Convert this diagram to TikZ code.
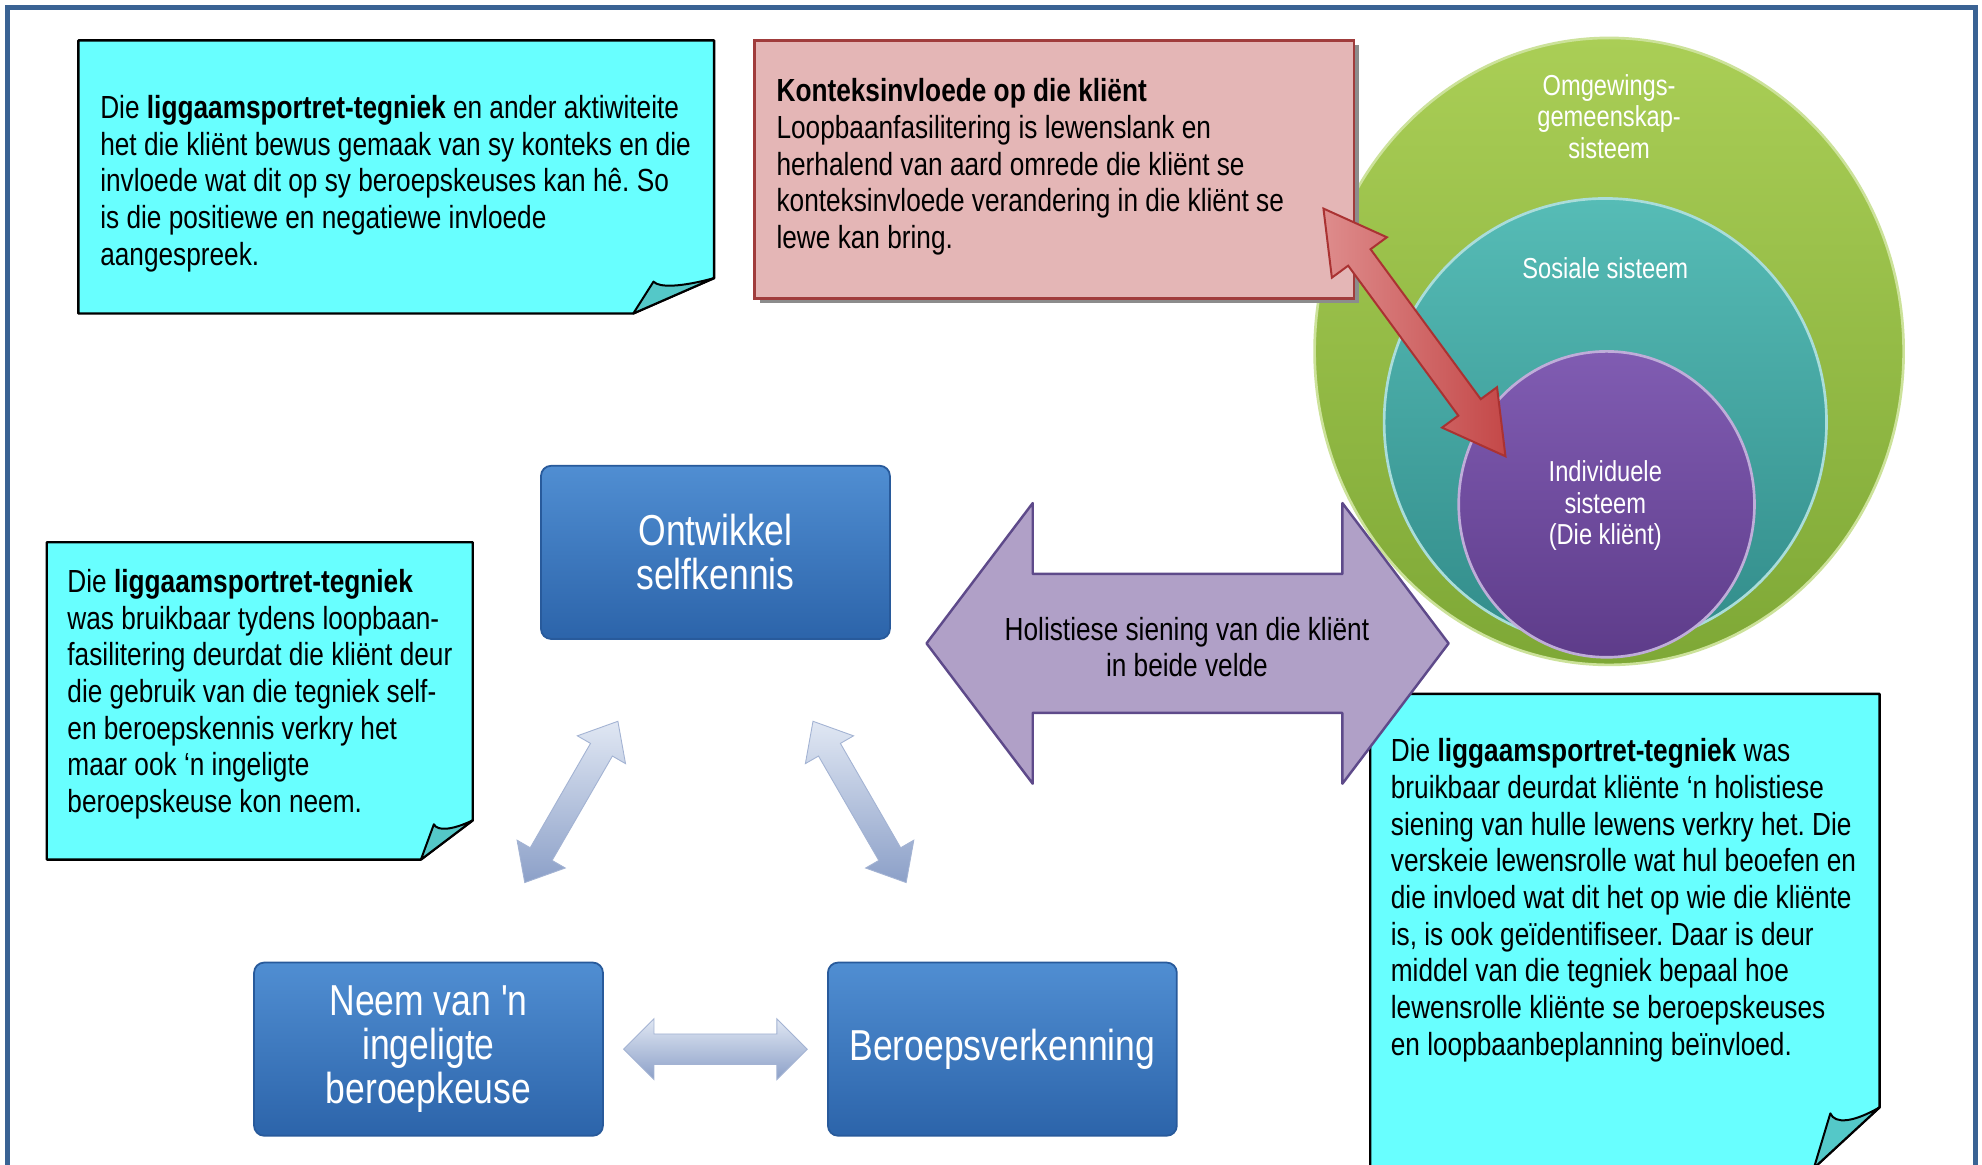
\documentclass[tikz,border=0pt]{standalone}
\usepackage{fontspec}
\setmainfont{Liberation Sans}[FakeStretch=0.82, Ligatures=TeXOff]
\usetikzlibrary{calc}
\frenchspacing
\definecolor{frameblue}{RGB}{58,99,148}
\definecolor{notecyan}{RGB}{104,255,255}
\definecolor{notefold}{RGB}{84,200,200}
\definecolor{ctxpink}{RGB}{228,182,182}
\definecolor{ctxedge}{RGB}{160,60,60}
\definecolor{holpurple}{RGB}{176,160,199}
\definecolor{holedge}{RGB}{94,74,138}
\definecolor{boxtop}{RGB}{80,142,210}
\definecolor{boxbot}{RGB}{44,100,170}
\definecolor{boxedge}{RGB}{40,90,155}
\definecolor{metaltop}{RGB}{224,231,243}
\definecolor{metalbot}{RGB}{140,160,200}
\definecolor{redtop}{RGB}{222,140,140}
\definecolor{redbot}{RGB}{196,72,72}
\definecolor{rededge}{RGB}{170,50,50}
\definecolor{envtop}{RGB}{170,206,86}
\definecolor{envbot}{RGB}{126,168,54}
\definecolor{soctop}{RGB}{86,188,182}
\definecolor{socbot}{RGB}{50,140,138}
\definecolor{indtop}{RGB}{128,92,178}
\definecolor{indbot}{RGB}{94,60,138}
\def\px{0.2mm}
\newcommand\DrawNote[6]{% left, top, right, bottom, fold dx, fold dy
  \path[note] (#1,#2) -- (#3,#2) -- (#3,{#4-#6}) -- ({#3-#5},#4) -- (#1,#4) -- cycle;
  \path[note fold] ({#3-#5},#4) -- ({#3-0.75*#5},{#4-0.9*#6})
    .. controls ({#3-0.68*#5},{#4-0.72*#6}) and ({#3-0.4*#5},{#4-0.75*#6}) .. (#3,{#4-#6}) -- cycle;
}
\newcommand\BlockArrow[6][]{% from, to, shaft half width, head half width, head length
  \path[#1] let \p1=($(#3)-(#2)$), \n1={atan2(\y1,\x1)}, \n2={veclen(\x1,\y1)} in
    [shift={(#2)}, rotate=\n1]
    (0pt,0pt) -- (#6*\px,#5*\px) -- (#6*\px,#4*\px) -- (\n2-#6*\px,#4*\px)
    -- (\n2-#6*\px,#5*\px) -- (\n2+0pt,0pt) -- (\n2-#6*\px,-#5*\px) -- (\n2-#6*\px,-#4*\px)
    -- (#6*\px,-#4*\px) -- (#6*\px,-#5*\px) -- cycle;
}
\tikzset{%
  frame/.style={draw=frameblue, line width=2.4pt},
  note/.style={fill=notecyan, draw=black, line width=1.1pt, line join=round},
  note fold/.style={fill=notefold, draw=black, line width=0.9pt, line join=round},
  body text/.style={font=\fontsize{14.4}{16.5}\selectfont, align=left, inner sep=0pt,
    anchor=north west},
  cyclebox/.style={rounded corners=1.6mm, minimum width=55.2mm, minimum height=27.4mm,
    top color=boxtop, bottom color=boxbot, draw=boxedge, line width=0.8pt,
    text=white, font=\fontsize{19.5}{19.8}\selectfont, align=center},
  metal arrow/.style={top color=metaltop, bottom color=metalbot, draw=metalbot!80!white,
    line width=0.4pt},
  red arrow/.style={left color=redtop, right color=redbot, draw=rededge, line width=0.9pt},
  hol arrow/.style={fill=holpurple, draw=holedge, line width=1.1pt, line join=round},
  ring text/.style={text=white, font=\fontsize{13}{14.2}\selectfont, align=center}
}
\begin{document}
\begin{tikzpicture}[x=\px,y=-\px]
  \useasboundingbox (0,0) rectangle (1568,921);
  \fill[white] (0,0) rectangle (1568,921);

  % left note
  \DrawNote{37}{429}{374}{680}{41}{31}
  % top note
  \DrawNote{62}{32}{565}{248}{64}{28}

  % the three systems
  \shade[top color=envtop, bottom color=envbot, draw=envtop!60!white, line width=1.2pt]
    (1273,278) ellipse [x radius=233, y radius=248];
  \shade[top color=soctop, bottom color=socbot, draw=soctop!50!white, line width=1.2pt]
    (1270,334) ellipse [x radius=175, y radius=177];
  \shade[top color=indtop, bottom color=indbot, draw=indtop!50!white, line width=1.2pt]
    (1271,399) ellipse [x radius=117, y radius=121];
  \node[ring text] (env) at (1273,92) {Omgewings-\\gemeenskap-\\sisteem};
  \node[ring text] (soc) at (1270,212) {Sosiale sisteem};
  \node[ring text] (ind) at (1270,400) {Individuele\\sisteem\\(Die kliënt)};

  % context box
  \fill[black!45] (601,36) rectangle (1075,240);
  \draw[fill=ctxpink, draw=ctxedge, line width=1.1pt] (597,32) rectangle (1071,236);
  \node[body text] (ctx) at (614,62) {\textbf{Konteksinvloede op die kliënt}\\
    Loopbaanfasilitering is lewenslank en\\
    herhalend van aard omrede die kliënt se\\
    konteksinvloede verandering in die kliënt se\\
    lewe kan bring.};
  \coordinate (ctxA) at (1047,165);
  \coordinate (ctxB) at (1191,361);
  \BlockArrow[red arrow]{ctxA}{ctxB}{11}{27}{48}

  % career cycle
  \node[cyclebox] (self) at (566,437) {Ontwikkel\\selfkennis};
  \node[cyclebox] (choice) at (339,830) {Neem van 'n\\ingeligte\\beroepkeuse};
  \node[cyclebox] (explore) at (793,830) {Beroepsverkenning};
  \coordinate (sc1) at ($(self)!0.34!(choice)$);
  \coordinate (sc2) at ($(self)!0.665!(choice)$);
  \coordinate (se1) at ($(self)!0.34!(explore)$);
  \coordinate (se2) at ($(self)!0.665!(explore)$);
  \coordinate (ce1) at ($(choice)!0.34!(explore)$);
  \coordinate (ce2) at ($(choice)!0.66!(explore)$);
  \BlockArrow[metal arrow]{sc1}{sc2}{10}{22}{26}
  \BlockArrow[metal arrow]{se1}{se2}{10}{22}{26}
  \BlockArrow[metal arrow]{ce1}{ce2}{12}{24}{24}

  % right note
  \DrawNote{1084}{549}{1487}{924}{52}{48}

  % holistic view
  \coordinate (holL) at (733,509);
  \coordinate (holR) at (1146,509);
  \BlockArrow[hol arrow]{holL}{holR}{55}{111}{84}
  \node[body text, anchor=center, align=center] (hol) at (939,512)
    {Holistiese siening van die kliënt\\in beide velde};

  \node[body text] (top) at (79,75) {Die \textbf{liggaamsportret-tegniek} en ander aktiwiteite\\
    het die kliënt bewus gemaak van sy konteks en die\\
    invloede wat dit op sy beroepskeuses kan hê. So\\
    is die positiewe en negatiewe invloede\\
    aangespreek.};
  \node[body text] (left) at (53,450) {Die \textbf{liggaamsportret-tegniek}\\
    was bruikbaar tydens loopbaan-\\
    fasilitering deurdat die kliënt deur\\
    die gebruik van die tegniek self-\\
    en beroepskennis verkry het\\
    maar ook ‘n ingeligte\\
    beroepskeuse kon neem.};
  \node[body text] (right) at (1100,584) {Die \textbf{liggaamsportret-tegniek} was\\
    bruikbaar deurdat kliënte ‘n holistiese\\
    siening van hulle lewens verkry het. Die\\
    verskeie lewensrolle wat hul beoefen en\\
    die invloed wat dit het op wie die kliënte\\
    is, is ook geïdentifiseer. Daar is deur\\
    middel van die tegniek bepaal hoe\\
    lewensrolle kliënte se beroepskeuses\\
    en loopbaanbeplanning beïnvloed.};

  \draw[frame] (6,925) -- (6,6) -- (1563,6) -- (1563,925);
\end{tikzpicture}
\end{document}
